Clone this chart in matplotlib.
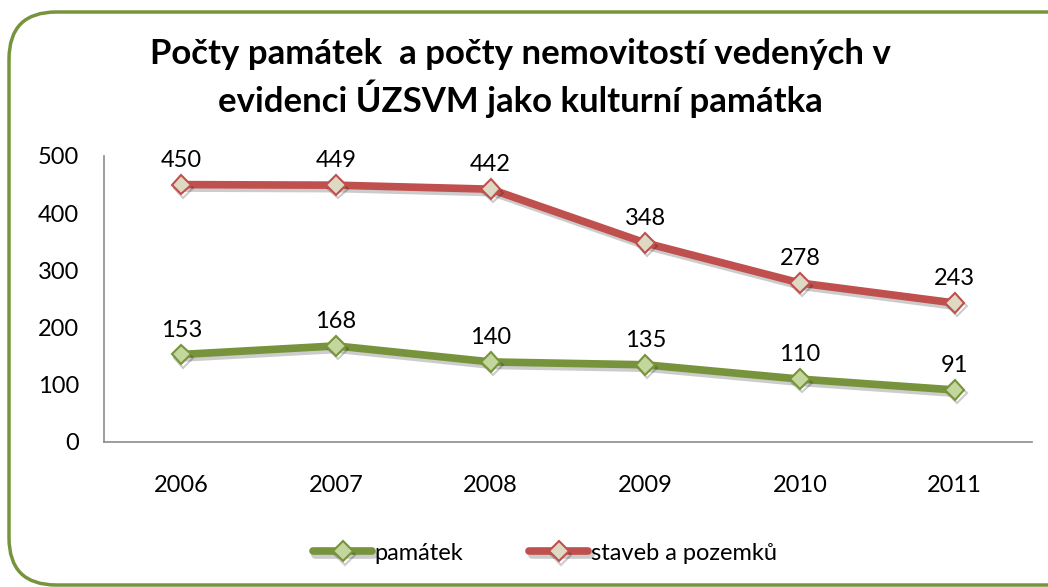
import matplotlib.pyplot as plt
from matplotlib.patches import FancyBboxPatch
import matplotlib.patheffects as pe

years = ["2006", "2007", "2008", "2009", "2010", "2011"]
pamatek = [153, 168, 140, 135, 110, 91]
staveb = [450, 449, 442, 348, 278, 243]

plt.rcParams['font.family'] = ['Lato', 'DejaVu Sans']

W, H = 1048, 587
fig = plt.figure(figsize=(W / 100, H / 100), dpi=100)

# rounded green frame (cut off at right edge like the reference)
frame = FancyBboxPatch((9 / W, 1 - 585 / H), 1100 / W, (585 - 12) / H,
                       boxstyle="round,pad=0,rounding_size=0.045",
                       transform=fig.transFigure, facecolor="none",
                       edgecolor="#77933C", linewidth=2.5, mutation_aspect=W / H,
                       zorder=0)
fig.patches.append(frame)

ax = fig.add_axes([104 / W, 1 - 442 / H, (1032 - 104) / W, (442 - 156) / H])
ax.set_facecolor("none")
x = list(range(len(years)))

shadow = [pe.SimpleLineShadow(offset=(1.5, -2.5), alpha=0.2, shadow_color="black"), pe.Normal()]

ax.plot(x, pamatek, color="#77933C", linewidth=5.5, marker="D", markersize=10,
        markerfacecolor="#C3D69B", markeredgecolor="#77933C", markeredgewidth=1.5,
        solid_capstyle="round", label="památek", path_effects=shadow)
ax.plot(x, staveb, color="#C0504D", linewidth=5.5, marker="D", markersize=10,
        markerfacecolor="#DDD9C3", markeredgecolor="#C0504D", markeredgewidth=1.5,
        solid_capstyle="round", label="staveb a pozemků", path_effects=shadow)

for xi, v in zip(x, pamatek):
    ax.annotate(str(v), (xi, v), xytext=(0, 10), textcoords="offset points",
                ha="center", va="bottom", fontsize=17)
for xi, v in zip(x, staveb):
    ax.annotate(str(v), (xi, v), xytext=(0, 10), textcoords="offset points",
                ha="center", va="bottom", fontsize=17)

ax.set_xlim(-0.5, 5.5)
ax.set_ylim(0, 500)
ax.set_yticks([0, 100, 200, 300, 400, 500])
ax.set_xticks(x)
ax.set_xticklabels(years)
ax.tick_params(axis="both", length=0, labelsize=17)
ax.tick_params(axis="x", pad=24)
ax.tick_params(axis="y", pad=18)
for s in ["top", "right"]:
    ax.spines[s].set_visible(False)
for s in ["left", "bottom"]:
    ax.spines[s].set_color("#8C8C8C")
    ax.spines[s].set_linewidth(1.2)

fig.text(520 / W, 1 - 78 / H,
         "Počty památek  a počty nemovitostí vedených v\nevidenci ÚZSVM jako kulturní památka",
         ha="center", va="center", fontsize=25, fontweight="bold", linespacing=1.3)

fig.legend(loc="center", bbox_to_anchor=(545 / W, 1 - 553 / H), ncol=2, frameon=False,
           fontsize=17, handlelength=2.5, handletextpad=0.1, columnspacing=2.8)

fig.savefig("out.png", dpi=100)
